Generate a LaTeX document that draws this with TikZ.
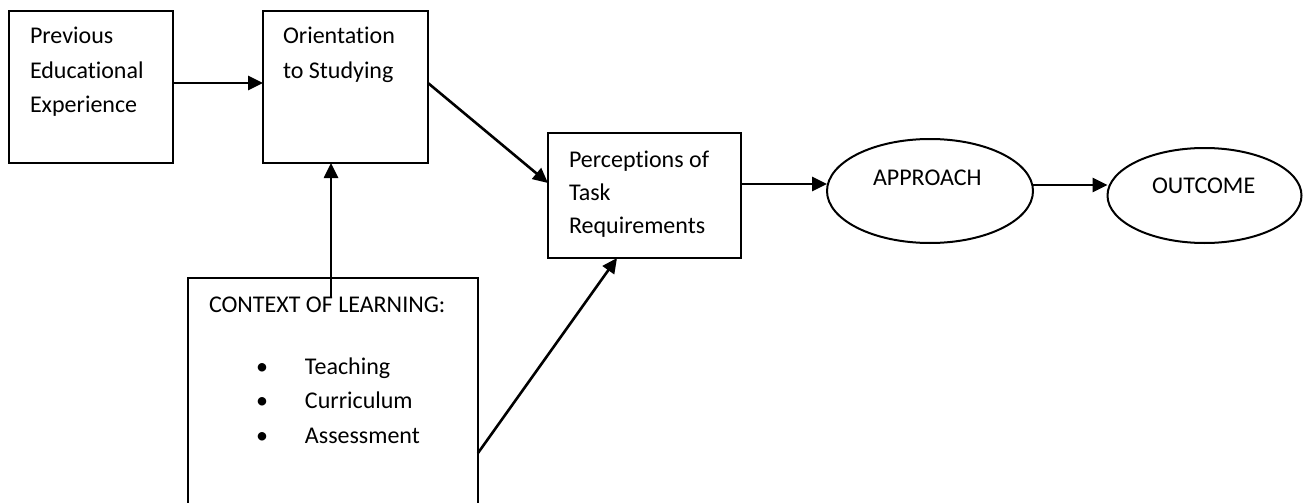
\documentclass[tikz,border=0pt]{standalone}
\usepackage{fontspec}
\setmainfont[Ligatures=NoCommon]{Carlito}
\usetikzlibrary{shapes.geometric,arrows.meta,calc}
\begin{document}
\begin{tikzpicture}[x=1pt,y=-1pt,
 box/.style={draw, line width=2pt, inner sep=0pt, outer sep=0pt},
 oval/.style={ellipse, draw, line width=2pt, inner sep=0pt, outer sep=0pt},
 txt/.style={inner sep=0pt, outer sep=0pt, anchor=base west, font=\fontsize{24}{34}\selectfont},
 arr/.style={line width=2.6pt, -{Triangle[length=15pt,width=14pt]}}]
\useasboundingbox (0,0) rectangle (1304,503);
% boxes
\node[box, minimum width=164pt, minimum height=152pt] (prev) at (91,87) {};
\node[box, minimum width=165pt, minimum height=152pt] (orient) at (345.5,87) {};
\node[box, minimum width=193pt, minimum height=125pt] (percep) at (644.5,195.5) {};
\node[box, minimum width=290pt, minimum height=242pt] (context) at (333,399) {};
\node[oval, minimum width=206pt, minimum height=104pt] (appr) at (930,191) {};
\node[oval, minimum width=194pt, minimum height=95pt] (outc) at (1204.5,195.5) {};
% texts
\node[txt] (prev1) at (30,44) {Previous};
\node[txt] (prev2) at (30,78) {Educational};
\node[txt] (prev3) at (30,112) {Experience};
\node[txt] (or1) at (283,44) {Orientation};
\node[txt] (or2) at (283,78) {to Studying};
\node[txt] (pe1) at (569,167) {Perceptions of};
\node[txt] (pe2) at (569,200) {Task};
\node[txt] (pe3) at (569,233) {Requirements};
\node[txt] (ap) at (873,185) {APPROACH};
\node[txt] (ou) at (1152,193) {OUTCOME};
\node[txt] (ct) at (209,312) {CONTEXT OF LEARNING:};
\node[txt] (b1) at (256,374) {\makebox[49pt][l]{•}Teaching};
\node[txt] (b2) at (256,408) {\makebox[49pt][l]{•}Curriculum};
\node[txt] (b3) at (256,443) {\makebox[49pt][l]{•}Assessment};
% connectors
\draw[arr] ([yshift=4pt]prev.east) -- ([yshift=4pt]orient.west);
\draw[arr] ([yshift=4pt]orient.east) -- ([yshift=12.5pt]percep.west);
\coordinate (cstart) at (331,297);
\draw[arr] (cstart) -- (cstart |- orient.south);
\draw[arr] ([yshift=-54pt]context.east) -- ([xshift=-27.5pt]percep.south);
\draw[arr] ([yshift=11.5pt]percep.east) -- ([yshift=11.5pt]percep.east -| appr.west);
\draw[arr] ([yshift=6pt]appr.east) -- ([yshift=6pt]appr.east -| outc.west);
\end{tikzpicture}
\end{document}
